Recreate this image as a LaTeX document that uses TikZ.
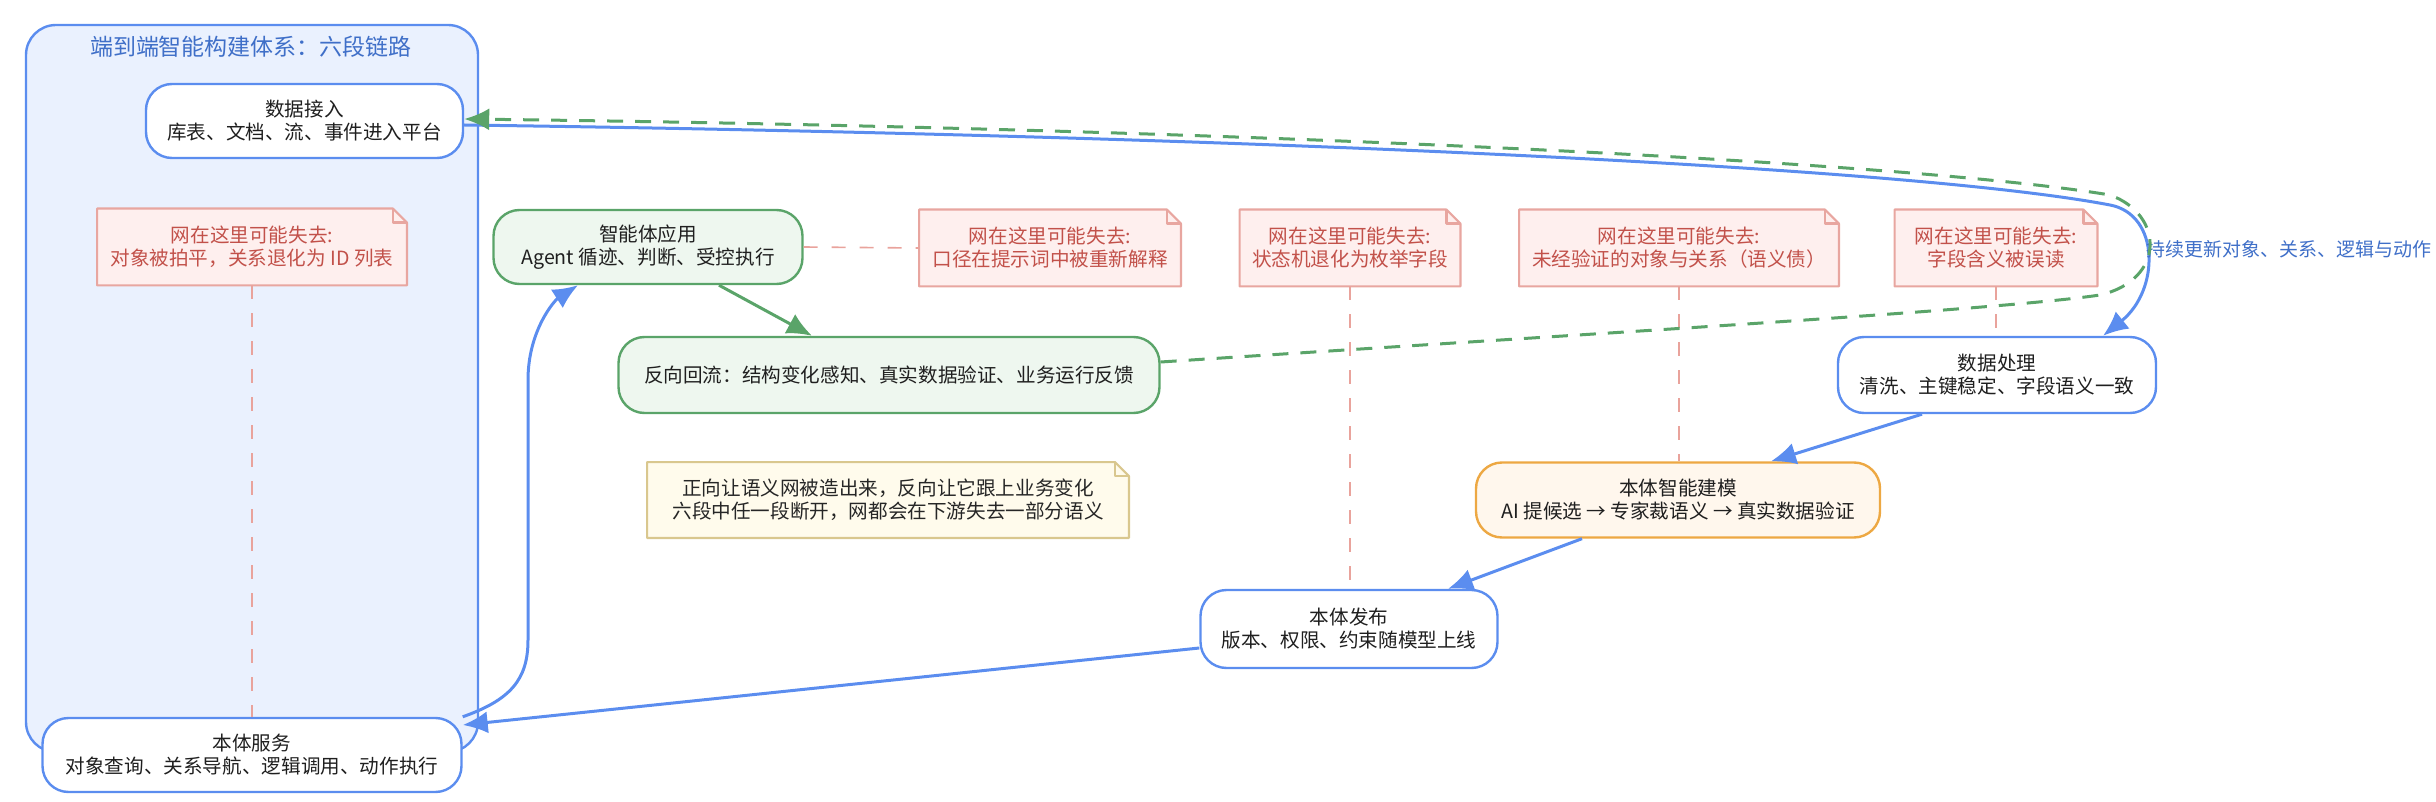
\documentclass[tikz,border=0pt]{standalone}
\usepackage{fontspec}
\setmainfont{Noto Sans CJK SC}
\usetikzlibrary{arrows.meta}
\pgfdeclarelayer{bottom}
\pgfdeclarelayer{bg}
\pgfsetlayers{bottom,bg,main}
\definecolor{cblue}{HTML}{5B8DEF}
\definecolor{cboxfill}{HTML}{EAF1FE}
\definecolor{ctitle}{HTML}{3F6FC8}
\definecolor{cgreen}{HTML}{5AA469}
\definecolor{cgreenfill}{HTML}{EEF7EF}
\definecolor{corange}{HTML}{EDA843}
\definecolor{corangefill}{HTML}{FFF7ED}
\definecolor{cred}{HTML}{E8A6A0}
\definecolor{credfill}{HTML}{FEEFEE}
\definecolor{credtext}{HTML}{C2514A}
\definecolor{cyel}{HTML}{D9C78E}
\definecolor{cyelfill}{HTML}{FFFBEC}
\definecolor{cpink}{HTML}{E9A39C}
\begin{document}
\begin{tikzpicture}[x=0.5pt,y=-0.5pt,
  every node/.style={font=\fontsize{9.8pt}{11.5pt}\selectfont, align=center, inner sep=0pt, text=black!88},
  container/.style={draw=cblue, fill=cboxfill, line width=1.2pt, rounded corners=15pt},
  stage/.style={draw=cblue, fill=white, line width=1.2pt, rounded corners=13pt},
  greenstage/.style={stage, draw=cgreen, fill=cgreenfill},
  orangestage/.style={stage, draw=corange, fill=corangefill},
  notebox/.style={text=credtext},
  yelnote/.style={text=black!85},
  link/.style={draw=cblue, line width=1.5pt, -{Latex[length=12.5pt,width=11pt]}},
  glink/.style={link, draw=cgreen},
  gdash/.style={glink, dash pattern=on 8pt off 6pt},
  tie/.style={draw=cpink, line width=0.8pt, dash pattern=on 7pt off 7pt},
]
\useasboundingbox (0,0) rectangle (2436,802);

\begin{pgfonlayer}{bottom}
\node[container, minimum width=226pt, minimum height=363.5pt] (box) at (252,388.5) {};
\end{pgfonlayer}

\node[text=ctitle, font=\fontsize{11.5pt}{13pt}\selectfont] (title) at (251,47) {端到端智能构建体系：六段链路};

% stages
\node[stage, minimum width=158.5pt, minimum height=37pt] (dj) at (304.5,121) {数据接入\\库表、文档、流、事件进入平台};
\node[stage, minimum width=159pt, minimum height=38pt] (dp) at (1997,375) {数据处理\\清洗、主键稳定、字段语义一致};
\node[orangestage, minimum width=202pt, minimum height=37.5pt] (mod) at (1678,500) {本体智能建模\\AI 提候选 → 专家裁语义 → 真实数据验证};
\node[stage, minimum width=148.5pt, minimum height=39pt] (pub) at (1349,629) {本体发布\\版本、权限、约束随模型上线};
\node[stage, minimum width=209.5pt, minimum height=37pt] (sv) at (252,755) {本体服务\\对象查询、关系导航、逻辑调用、动作执行};
\node[greenstage, minimum width=154.5pt, minimum height=37pt] (ag) at (648,247) {智能体应用\\Agent 循迹、判断、受控执行};
\node[greenstage, minimum width=270.5pt, minimum height=38pt] (rf) at (889,375) {反向回流：结构变化感知、真实数据验证、业务运行反馈};

% notes
\node[notebox, minimum width=154.5pt, minimum height=38pt] (n1) at (252,247) {网在这里可能失去:\\对象被拍平，关系退化为 ID 列表};
\node[notebox, minimum width=130.5pt, minimum height=38pt] (n2) at (1050,248) {网在这里可能失去:\\口径在提示词中被重新解释};
\node[notebox, minimum width=110pt, minimum height=38pt] (n3) at (1350,248) {网在这里可能失去:\\状态机退化为枚举字段};
\node[notebox, minimum width=159.5pt, minimum height=38pt] (n4) at (1679,248) {网在这里可能失去:\\未经验证的对象与关系（语义债）};
\node[notebox, minimum width=101pt, minimum height=38pt] (n5) at (1996,248) {网在这里可能失去:\\字段含义被误读};
\node[yelnote, minimum width=240.5pt, minimum height=37.5pt] (yel) at (888,500) {正向让语义网被造出来，反向让它跟上业务变化\\六段中任一段断开，网都会在下游失去一部分语义};

\begin{pgfonlayer}{bg}
\foreach \n in {n1,n2,n3,n4,n5} {
  \filldraw[draw=cred, fill=credfill, line width=1.1pt, line join=round]
    (\n.south west) -- (\n.north west) -- ([xshift=-7pt]\n.north east) -- ([yshift=-7pt]\n.north east) -- (\n.south east) -- cycle;
  \draw[cred, line width=1.1pt, line join=round] ([xshift=-7pt]\n.north east) |- ([yshift=-7pt]\n.north east);
}
\filldraw[draw=cyel, fill=cyelfill, line width=1.1pt, line join=round]
  (yel.south west) -- (yel.north west) -- ([xshift=-7pt]yel.north east) -- ([yshift=-7pt]yel.north east) -- (yel.south east) -- cycle;
\draw[cyel, line width=1.1pt, line join=round] ([xshift=-7pt]yel.north east) |- ([yshift=-7pt]yel.north east);
\end{pgfonlayer}

% note ties
\draw[tie] (n1.south) -- (n1.south |- sv.north);
\draw[tie] (ag.east) -- (n2.west);
\draw[tie] (n3.south) -- (n3.south |- pub.north);
\draw[tie] (n4.south) -- (n4.south |- mod.north);
\draw[tie] (n5.south) -- (n5.south |- dp.north);

% forward chain
\draw[link] ([yshift=-2pt]dj.east) .. controls (1200,135) and (1900,165) .. (2110,205)
  .. controls (2160,214.5) and (2160,290) .. ([xshift=53pt]dp.north);
\node[anchor=west, text=ctitle, font=\fontsize{9.5pt}{11pt}\selectfont] (lbl) at (2146,249) {持续更新对象、关系、逻辑与动作};
\draw[link] ([xshift=-37.5pt]dp.south) -- ([xshift=46.5pt]mod.north);
\draw[link] ([xshift=-48pt]mod.south) -- ([xshift=49.5pt]pub.north);
\draw[link] ([yshift=-9.5pt]pub.west) -- ([yshift=15pt]sv.east);
\draw[link] (sv.north east) .. controls (510,700) and (528,680) .. (528,640) -- (528,380)
  .. controls (528,330) and (555,300) .. ([xshift=-35pt]ag.south);
\draw[glink] ([xshift=35.5pt]ag.south) -- ([xshift=-38.5pt]rf.north);

% feedback loop
\draw[gdash] ([yshift=6.5pt]rf.east) .. controls (1600,333) and (2000,310) .. (2100,295)
  .. controls (2165,280) and (2165,215) .. (2110,195)
  .. controls (1900,160) and (1200,128) .. ([yshift=1pt]dj.east);
\end{tikzpicture}
\end{document}
